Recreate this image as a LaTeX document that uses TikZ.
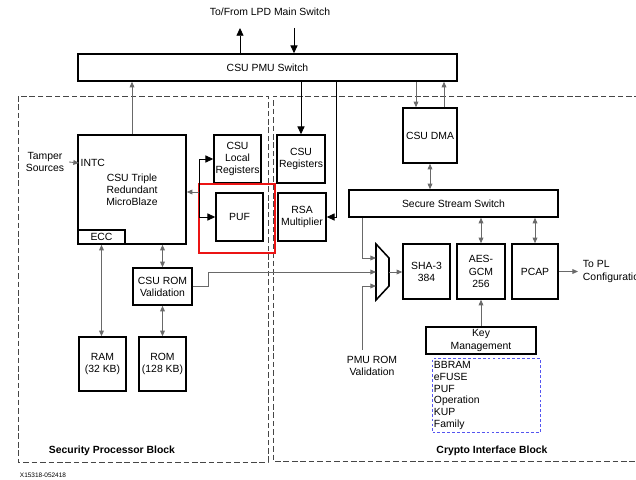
\documentclass[tikz,border=0pt]{standalone}
\usepackage{fontspec}
\setmainfont{Liberation Sans}
\usetikzlibrary{arrows.meta}
\definecolor{linegray}{RGB}{105,105,105}
\definecolor{dashgray}{RGB}{70,70,70}
\definecolor{pufred}{RGB}{235,20,20}
\definecolor{keyblue}{RGB}{85,85,240}

\begin{document}
\begin{tikzpicture}[x=0.025cm, y=-0.025cm,
    font=\fontsize{7.4}{8.6}\selectfont,
    box/.style={draw, line width=1.1pt, align=center, inner sep=1pt},
    arr/.style={-{Triangle[length=4pt,width=3.4pt]}, linegray, line width=0.6pt},
    darr/.style={{Triangle[length=4pt,width=3.4pt]}-{Triangle[length=4pt,width=3.4pt]}, linegray, line width=0.6pt},
    barr/.style={-{Triangle[length=5.5pt,width=5pt]}, line width=0.6pt},
    region/.style={dashgray, dash pattern=on 4pt off 2pt, line width=0.6pt},
    title/.style={font=\fontsize{7.4}{8.6}\selectfont\bfseries}
  ]
  \useasboundingbox (0,0) rectangle (636,479);

  % block outlines
  \draw[region] (18,96) rectangle (268,462);
  \draw[region] (640,96) -- (273,96) -- (273,461) -- (640,461);
  \node[title] (spb) at (112,451) {Security Processor Block};
  \node[title] (cib) at (492,451) {Crypto Interface Block};
  \node[font=\fontsize{4.6}{5}\selectfont] (fig) at (43,475) {X15318-052418};

  % switch
  \node[box, minimum width=9.475cm, minimum height=0.675cm] (pmu) at (267.5,67.5) {CSU PMU Switch};
  \node (lpd) at (270,12) {To/From LPD Main Switch};
  \draw[barr] (pmu.north -| 240,0) -- (240,28);
  \draw[barr] (294,28) -- (pmu.north -| 294,0);

  % security processor
  \node[box, minimum width=2.7cm, minimum height=2.725cm] (mb) at (132,189.5) {CSU Triple\\Redundant\\MicroBlaze};
  \node[box, minimum width=1.175cm, minimum height=0.35cm, anchor=south west] (ecc) at (mb.south west) {ECC};
  \node[anchor=west, inner sep=1pt] (intc) at (79,163) {INTC};
  \node[align=center] (tamp) at (45,162) {Tamper\\Sources};
  \draw[arr] (tamp.east) -- (intc.west);
  \draw[arr] (mb.north) -- (mb.north |- pmu.south);

  \node[box, minimum width=1.175cm, minimum height=1.2cm] (loc) at (237.5,159) {CSU\\Local\\Registers};
  \node[box, minimum width=1.175cm, minimum height=1.2cm] (puf) at (239.5,217) {PUF};
  \node[draw=pufred, line width=1.7pt, minimum width=1.9cm, minimum height=1.725cm] (pufhl) at (237,218.5) {};
  \coordinate (bus) at (199,192);
  \draw[arr] (bus) -- (mb.east |- bus);
  \draw[barr] (bus) |- (loc.west);
  \draw[barr] (bus) |- (puf.west);

  \node[box, minimum width=1.475cm, minimum height=0.925cm] (romv) at (162.5,286.5) {CSU ROM\\Validation};
  \node[box, minimum width=1.175cm, minimum height=1.35cm] (ram) at (102.5,364) {RAM\\(32 KB)};
  \node[box, minimum width=1.175cm, minimum height=1.35cm] (rom) at (162.5,364) {ROM\\(128 KB)};
  \draw[darr] (romv.north) -- (romv.north |- mb.south);
  \draw[darr] (ecc.south) -- (ecc.south |- ram.north);
  \draw[darr] (romv.south) -- (rom.north);

  % crypto interface
  \node[box, minimum width=1.2cm, minimum height=1.2cm] (creg) at (301,159) {CSU\\Registers};
  \node[box, minimum width=1.2cm, minimum height=1.2cm] (rsa) at (302,217) {RSA\\Multiplier};
  \draw[barr] (pmu.south -| creg.north) -- (creg.north);
  \draw[barr] (pmu.south -| 336,0) |- (rsa.east);

  \node[box, minimum width=1.35cm, minimum height=1.375cm] (dma) at (430,135.5) {CSU DMA};
  \draw[arr] (pmu.south -| 416,0) -- (dma.north -| 416,0);
  \draw[arr] (dma.north -| 444,0) -- (pmu.south -| 444,0);
  \node[box, minimum width=5.225cm, minimum height=0.675cm] (sss) at (453.5,203.5) {Secure Stream Switch};
  \draw[darr] (dma.south) -- (dma.south |- sss.north);

  \node[box, minimum width=1.175cm, minimum height=1.375cm] (sha) at (426.5,271.5) {SHA-3\\384};
  \node[box, minimum width=1.2cm, minimum height=1.375cm] (aes) at (481,271.5) {AES-\\GCM\\256};
  \node[box, minimum width=1.15cm, minimum height=1.375cm] (pcap) at (535,271.5) {PCAP};
  \draw[darr] (sss.south -| aes.north) -- (aes.north);
  \draw[darr] (sss.south -| pcap.north) -- (pcap.north);
  \node[align=left, anchor=west] (topl) at (578,271.5) {To PL\\Configuration};
  \draw[arr] (pcap.east) -- (topl.west);

  \node[box, minimum width=2.75cm, minimum height=0.675cm] (key) at (481,340.5) {Key\\Management};
  \draw[arr] (key.north) -- (aes.south);
  \node[draw=keyblue, dash pattern=on 2pt off 1.5pt, line width=0.7pt, anchor=north west,
    align=left, text width=2.62cm, minimum height=1.85cm, inner sep=1pt,
    font=\fontsize{7.4}{8.5}\selectfont] (ksrc) at (432,358) {BBRAM\\eFUSE\\PUF\\Operation\\KUP\\Family};

  % mux
  \draw[line width=1.1pt] (376,244) -- (389,258) -- (389,286) -- (376,300) -- cycle;
  \coordinate (mi1) at (376,258);
  \coordinate (mi2) at (376,272);
  \coordinate (mi3) at (376,286);
  \coordinate (mo) at (389,272);
  \coordinate (pmuv) at (362,350);
  \node[align=center] (pmurom) at (372,366) {PMU ROM\\Validation};
  \draw[arr] (sss.south -| pmuv) |- (mi1);
  \draw[arr] (romv.east) -- ++(16,0) |- (mi2);
  \draw[arr] (pmuv) |- (mi3);
  \draw[arr] (mo) -- (sha.west |- mo);
\end{tikzpicture}
\end{document}
